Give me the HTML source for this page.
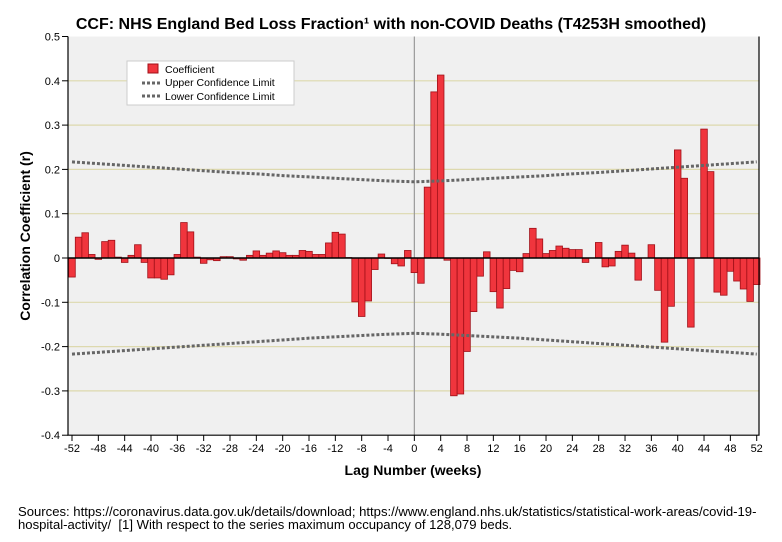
<!DOCTYPE html>
<html><head><meta charset="utf-8"><style>
body{margin:0;background:#fff;width:782px;height:542px;overflow:hidden;font-family:"Liberation Sans",sans-serif}
svg{display:block}
</style></head><body>
<svg id="chart" width="782" height="542">
<text x="391" y="29" text-anchor="middle" font-size="16" font-weight="bold">CCF: NHS England Bed Loss Fraction¹ with non-COVID Deaths (T4253H smoothed)</text>
<rect x="68" y="36.5" width="691" height="398.7" fill="#f0f0f0"/>
<g id="grid"></g><g id="bars"></g><g id="lines"></g><g id="axes"></g>
<text transform="translate(30,236) rotate(-90)" text-anchor="middle" font-size="14" font-weight="bold">Correlation Coefficient (r)</text>
<text x="413" y="475" text-anchor="middle" font-size="14" font-weight="bold">Lag Number (weeks)</text>
<text x="18" y="516" font-size="13.1" xml:space="preserve">Sources: https://coronavirus.data.gov.uk/details/download; https://www.england.nhs.uk/statistics/statistical-work-areas/covid-19-</text>
<text x="18" y="529" font-size="13.1" xml:space="preserve">hospital-activity/  [1] With respect to the series maximum occupancy of 128,079 beds.</text>
<g>
<rect x="127" y="61" width="167" height="44" fill="#fff" stroke="#ccc"/>
<rect x="148" y="64" width="10" height="9" fill="#f0353d" stroke="#a01018"/>
<text x="165" y="73" font-size="10.5">Coefficient</text>
<line x1="142" y1="83" x2="162" y2="83" stroke="#666" stroke-width="3" stroke-dasharray="3,2"/>
<text x="165" y="86" font-size="10.5">Upper Confidence Limit</text>
<line x1="142" y1="96" x2="162" y2="96" stroke="#666" stroke-width="3" stroke-dasharray="3,2"/>
<text x="165" y="100" font-size="10.5">Lower Confidence Limit</text>
</g>
</svg>
<script>
const lags=[];for(let l=-52;l<=52;l++)lags.push(l);
const coef=[-0.043,0.047,0.057,0.008,-0.003,0.037,0.040,0.002,-0.010,0.006,0.030,-0.010,-0.045,-0.045,-0.048,-0.038,0.008,0.080,0.059,0.002,-0.012,-0.004,-0.006,0.003,0.003,-0.002,-0.005,0.006,0.016,0.006,0.011,0.016,0.012,0.006,0.006,0.017,0.015,0.008,0.008,0.034,0.058,0.054,0.001,-0.099,-0.132,-0.097,-0.026,0.009,-0.001,-0.013,-0.018,0.017,
-0.033,-0.057,0.160,0.375,0.413,-0.005,-0.311,-0.307,-0.211,-0.121,-0.041,0.014,-0.076,-0.113,-0.069,-0.028,-0.031,0.010,0.067,0.043,0.010,0.017,0.027,0.022,0.019,0.019,-0.010,0.000,0.035,-0.020,-0.018,0.015,0.029,0.011,-0.050,0.000,0.030,-0.073,-0.190,-0.109,0.244,0.180,-0.156,0.000,0.291,0.195,-0.077,-0.084,-0.030,-0.052,-0.070,-0.098,-0.060];
const clLags=[-52,-48,-44,-40,-36,-32,-28,-24,-20,-16,-12,-8,-4,0,4,8,12,16,20,24,28,32,36,40,44,48,52];
const ucl=[0.217,0.213,0.209,0.205,0.201,0.197,0.193,0.190,0.186,0.183,0.180,0.177,0.174,0.172,0.174,0.177,0.180,0.183,0.186,0.190,0.193,0.197,0.201,0.205,0.209,0.213,0.217];
const lcl=[-0.217,-0.213,-0.209,-0.205,-0.201,-0.197,-0.193,-0.189,-0.185,-0.181,-0.178,-0.175,-0.172,-0.170,-0.172,-0.175,-0.178,-0.181,-0.185,-0.189,-0.193,-0.197,-0.201,-0.205,-0.209,-0.213,-0.217];
const yTicks=[0.5,0.4,0.3,0.2,0.1,0,-0.1,-0.2,-0.3,-0.4];
const yTickLabels=["0.5","0.4","0.3","0.2","0.1","0","-0.1","-0.2","-0.3","-0.4"];
const xTicks=[-52,-48,-44,-40,-36,-32,-28,-24,-20,-16,-12,-8,-4,0,4,8,12,16,20,24,28,32,36,40,44,48,52];
const NS='http://www.w3.org/2000/svg';
const X=l=>72+(l+52)*(756.7-72)/104;
const Y=v=>258-v*443;
const bw=(756.7-72)/104;
function mk(tag,attrs,parent){const e=document.createElementNS(NS,tag);for(const k in attrs)e.setAttribute(k,attrs[k]);document.getElementById(parent).appendChild(e);return e;}
yTicks.forEach((t,i)=>{
 if(t!==0&&t!==0.5&&t!==-0.4){const g=mk('line',{x1:68,x2:759,y1:Y(t),y2:Y(t),stroke:'#ddd9ae','stroke-width':1.2},'grid');
 
 }
 const tk=mk('line',{x1:62,x2:68,y1:Y(t),y2:Y(t),stroke:'#000'},'axes');
 
 
 const tx=mk('text',{x:60,y:Y(t)+4,'text-anchor':'end','font-size':11},'axes');tx.textContent=yTickLabels[i];
 
 
});
const v0=mk('line',{x1:X(0),x2:X(0),y1:36.5,y2:435,stroke:'#999','stroke-width':1.2},'grid');


lags.forEach((l,i)=>{const v=coef[i];if(Math.abs(v)<0.0005)return;
 const b=mk('rect',{x:X(l)-bw/2,y:Math.min(Y(v),Y(0)),width:bw,height:Math.abs(Y(v)-Y(0)),fill:'#f0353d',stroke:'#a01018','stroke-width':0.8},'bars');
 
 });
const z=mk('line',{x1:68,x2:759,y1:Y(0),y2:Y(0),stroke:'#000','stroke-width':1.5},'lines');


[[ucl,'upper-confidence-limit'],[lcl,'lower-confidence-limit']].forEach(([arr,n])=>{
 const p=mk('polyline',{points:clLags.map((l,i)=>X(l)+','+Y(arr[i])).join(' '),fill:'none',stroke:'#666','stroke-width':3,'stroke-dasharray':'3,2'},'lines');
 
 });
const ax=mk('path',{d:'M68,36.5V435.2H759V36.5',fill:'none',stroke:'#000','stroke-width':1.2},'axes');


xTicks.forEach(t=>{
 const tk=mk('line',{x1:X(t),x2:X(t),y1:435,y2:441,stroke:'#000'},'axes');
 
 
 const tx=mk('text',{x:X(t),y:452,'text-anchor':'middle','font-size':11},'axes');tx.textContent=t;
 
 
});
</script>
</body></html>
